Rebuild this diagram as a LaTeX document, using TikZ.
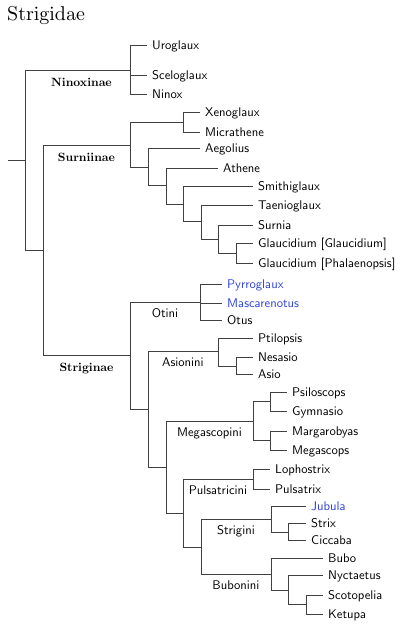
\documentclass[tikz,border=0pt]{standalone}
\usetikzlibrary{calc}

\font\titlefnt=cmr10 at 20pt
\font\taxonfnt=cmss10 at 12.6pt
\font\subfamfnt=cmbx10 at 12pt
\definecolor{newgenus}{RGB}{45,65,215}
\tikzset{
  branch/.style={line width=0.6pt, black!75},
  taxon/.style={anchor=west, inner xsep=5pt, inner ysep=0pt, text height=8.7pt, text depth=0pt,
    text=black, font=\taxonfnt},
  newtaxon/.style={taxon, text=newgenus},
  tribe/.style={anchor=north, inner sep=0pt, text height=8.7pt, text depth=0pt, yshift=-6pt,
    text=black, font=\taxonfnt},
  subfamily/.style={anchor=north, inner sep=0pt, text height=8.2pt, text depth=0pt, yshift=-8pt,
    text=black, font=\subfamfnt},
  title/.style={anchor=base west, inner sep=0pt, font=\titlefnt}
}

\begin{document}
\begin{tikzpicture}[x=1pt, y=-1pt]
    \useasboundingbox (0,0) rectangle (400,626);
    % Title
    \node[title] (fam) at (7,21) {Strigidae};

    % Internal nodes
    \coordinate (stub) at (8,160);
    \coordinate (root) at (25,160);
    \coordinate (nin)  at (130,70);
    \coordinate (core) at (43,250);
    \coordinate (sur)  at (130,145);
    \coordinate (xm)   at (183,122);
    \coordinate (ae)   at (148,167);
    \coordinate (at)   at (166,185);
    \coordinate (sm)   at (183,204);
    \coordinate (ta)   at (201,221);
    \coordinate (su)   at (218,239);
    \coordinate (gl)   at (236,253);
    \coordinate (stg)  at (130,355);
    \coordinate (oti)  at (200,302);
    \coordinate (r1)   at (148,409);
    \coordinate (asi)  at (218,351);
    \coordinate (na)   at (236,366);
    \coordinate (r2)   at (166,467);
    \coordinate (meg)  at (253,421);
    \coordinate (pg)   at (270,401);
    \coordinate (mm)   at (270,440);
    \coordinate (r3)   at (183,513);
    \coordinate (pul)  at (253,479);
    \coordinate (r4)   at (201,547);
    \coordinate (str)  at (271,519);
    \coordinate (sc)   at (288,532);
    \coordinate (bub)  at (271,574);
    \coordinate (nyc)  at (288,590);
    \coordinate (sk)   at (306,604);

    % Leaves: Ninoxinae
    \node[taxon] (uro) at (147,45) {Uroglaux};
    \node[taxon] (sce) at (147,75) {Sceloglaux};
    \node[taxon] (nix) at (147,94) {Ninox};
    % Leaves: Surniinae
    \node[taxon] (xen) at (200,112) {Xenoglaux};
    \node[taxon] (mic) at (200,132) {Micrathene};
    \node[taxon] (aeg) at (200,148) {Aegolius};
    \node[taxon] (ath) at (218,168) {Athene};
    \node[taxon] (smi) at (253,186) {Smithiglaux};
    \node[taxon] (tae) at (253,205) {Taenioglaux};
    \node[taxon] (srn) at (253,225) {Surnia};
    \node[taxon] (gg)  at (253,243) {Glaucidium [Glaucidium]};
    \node[taxon] (gp)  at (253,263) {Glaucidium [Phalaenopsis]};
    % Leaves: Striginae
    \node[newtaxon] (pyr) at (222,284) {Pyrroglaux};
    \node[newtaxon] (mas) at (222,303) {Mascarenotus};
    \node[taxon] (otu) at (222,320) {Otus};
    \node[taxon] (pti) at (253,338) {Ptilopsis};
    \node[taxon] (nes) at (253,357) {Nesasio};
    \node[taxon] (asio) at (253,374) {Asio};
    \node[taxon] (psi) at (287,392) {Psiloscops};
    \node[taxon] (gym) at (287,411) {Gymnasio};
    \node[taxon] (mar) at (287,431) {Margarobyas};
    \node[taxon] (mgs) at (287,450) {Megascops};
    \node[taxon] (lop) at (270,469) {Lophostrix};
    \node[taxon] (pls) at (270,489) {Pulsatrix};
    \node[newtaxon] (jub) at (306,506) {Jubula};
    \node[taxon] (stx) at (306,523) {Strix};
    \node[taxon] (cic) at (306,540) {Ciccaba};
    \node[taxon] (bbo) at (323,558) {Bubo};
    \node[taxon] (nyx) at (323,575) {Nyctaetus};
    \node[taxon] (sco) at (323,595) {Scotopelia};
    \node[taxon] (ket) at (323,614) {Ketupa};

    % Draw backbone
    \draw[branch] (stub) -- (root);
    \draw[branch] (root) |- (nin) node[subfamily, pos=0.75, xshift=4pt] {Ninoxinae};
    \draw[branch] (root) |- (core);
    \draw[branch] (core) |- (sur) node[subfamily, pos=0.75] {Surniinae};
    \draw[branch] (core) |- (stg) node[subfamily, pos=0.75] {Striginae};

    % Draw Ninoxinae
    \draw[branch] (nin) |- (uro.west);
    \draw[branch] (nin) |- (sce.west);
    \draw[branch] (nin) |- (nix.west);

    % Draw Surniinae
    \draw[branch] (sur) |- (xm);
    \draw[branch] (sur) |- (ae);
    \draw[branch] (xm) |- (xen.west);
    \draw[branch] (xm) |- (mic.west);
    \draw[branch] (ae) |- (aeg.west);
    \draw[branch] (ae) |- (at);
    \draw[branch] (at) |- (ath.west);
    \draw[branch] (at) |- (sm);
    \draw[branch] (sm) |- (smi.west);
    \draw[branch] (sm) |- (ta);
    \draw[branch] (ta) |- (tae.west);
    \draw[branch] (ta) |- (su);
    \draw[branch] (su) |- (srn.west);
    \draw[branch] (su) |- (gl);
    \draw[branch] (gl) |- (gg.west);
    \draw[branch] (gl) |- (gp.west);

    % Draw Striginae
    \draw[branch] (stg) |- (oti) node[tribe, pos=0.75] {Otini};
    \draw[branch] (stg) |- (r1);
    \draw[branch] (oti) |- (pyr.west);
    \draw[branch] (oti) |- (mas.west);
    \draw[branch] (oti) |- (otu.west);
    \draw[branch] (r1) |- (asi) node[tribe, pos=0.75] {Asionini};
    \draw[branch] (r1) |- (r2);
    \draw[branch] (asi) |- (pti.west);
    \draw[branch] (asi) |- (na);
    \draw[branch] (na) |- (nes.west);
    \draw[branch] (na) |- (asio.west);
    \draw[branch] (r2) |- (meg) node[tribe, pos=0.75] {Megascopini};
    \draw[branch] (r2) |- (r3);
    \draw[branch] (meg) |- (pg);
    \draw[branch] (meg) |- (mm);
    \draw[branch] (pg) |- (psi.west);
    \draw[branch] (pg) |- (gym.west);
    \draw[branch] (mm) |- (mar.west);
    \draw[branch] (mm) |- (mgs.west);
    \draw[branch] (r3) |- (pul) node[tribe, pos=0.75] {Pulsatricini};
    \draw[branch] (r3) |- (r4);
    \draw[branch] (pul) |- (lop.west);
    \draw[branch] (pul) |- (pls.west);
    \draw[branch] (r4) |- (str) node[tribe, pos=0.75] {Strigini};
    \draw[branch] (r4) |- (bub) node[tribe, pos=0.75] {Bubonini};
    \draw[branch] (str) |- (jub.west);
    \draw[branch] (str) |- (sc);
    \draw[branch] (sc) |- (stx.west);
    \draw[branch] (sc) |- (cic.west);
    \draw[branch] (bub) |- (bbo.west);
    \draw[branch] (bub) |- (nyc);
    \draw[branch] (nyc) |- (nyx.west);
    \draw[branch] (nyc) |- (sk);
    \draw[branch] (sk) |- (sco.west);
    \draw[branch] (sk) |- (ket.west);
\end{tikzpicture}
\end{document}
